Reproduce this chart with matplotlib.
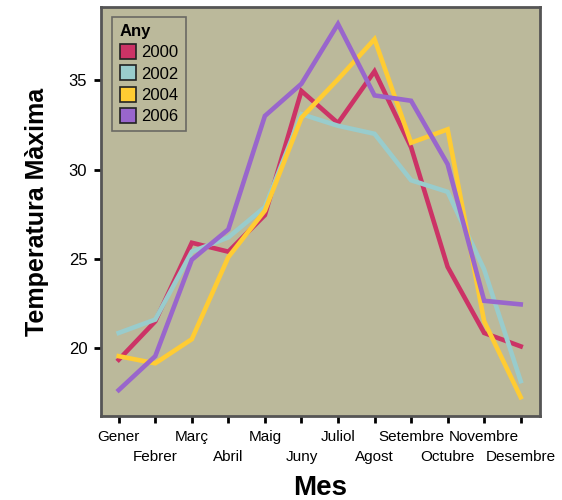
import matplotlib
matplotlib.use("Agg")
import matplotlib.pyplot as plt
from matplotlib.patches import Patch

months = ["Gener", "Febrer", "Març", "Abril", "Maig", "Juny", "Juliol",
          "Agost", "Setembre", "Octubre", "Novembre", "Desembre"]
years = ["2000", "2002", "2004", "2006"]
t2000 = [19.35, 21.5, 25.9, 25.4, 27.45, 34.4, 32.6, 35.5, 31.25, 24.55, 20.85, 20.1]
t2002 = [20.85, 21.6, 25.4, 26.2, 27.9, 33.1, 32.45, 32.0, 29.4, 28.75, 24.4, 18.15]
t2004 = [19.55, 19.15, 20.5, 25.1, 27.7, 32.9, 35.05, 37.3, 31.5, 32.25, 21.5, 17.25]
t2006 = [17.65, 19.55, 24.95, 26.65, 33.0, 34.8, 38.15, 34.15, 33.85, 30.3, 22.65, 22.45]
series = [t2000, t2002, t2004, t2006]
colors = ["#CC3366", "#99CCCC", "#FFCC33", "#9966CC"]
yticks = [20, 25, 30, 35]

plt.rcParams['font.family'] = ['Liberation Sans', 'DejaVu Sans']

fig = plt.figure(figsize=(5.62, 5.0), dpi=100)
ax = fig.add_axes([0.18, 0.168, 0.781, 0.818])
ax.set_facecolor("#BBB99B")

x = list(range(len(months)))
for vals, c in zip(series, colors):
    ax.plot(x, vals, color=c, lw=3.3, solid_joinstyle='miter', zorder=3)

ax.set_xlim(-0.48, 11.53)
ax.set_ylim(16.2, 39.1)
ax.set_yticks(yticks)
ax.set_yticklabels([str(v) for v in yticks], fontsize=12)

even = x[0::2]
odd = x[1::2]
ax.set_xticks(even)
ax.set_xticklabels(months[0::2], fontsize=11)
ax.set_xticks(odd, minor=True)
ax.set_xticklabels(months[1::2], minor=True, fontsize=11)
ax.tick_params(axis='both', which='both', direction='out', length=5, width=2,
               color='black')
ax.tick_params(axis='x', which='major', pad=5)
ax.tick_params(axis='x', which='minor', pad=19.5)
ax.tick_params(axis='y', pad=5)
for s in ax.spines.values():
    s.set_color("#555555")
    s.set_linewidth(2)

ax.set_xlabel("Mes", fontsize=20, fontweight='bold', labelpad=8)
ax.set_ylabel("Temperatura Màxima", fontsize=18, fontweight='bold', labelpad=14)

handles = [Patch(facecolor=c, edgecolor='#222222', lw=1.2) for c in colors]
leg = ax.legend(handles, years, title="Any", loc='upper left',
                bbox_to_anchor=(0.025, 0.976), borderaxespad=0,
                fontsize=12, frameon=True,
                fancybox=False, handlelength=1.0, handleheight=1.0,
                handletextpad=0.3, borderpad=0.45, labelspacing=0.3,
                title_fontproperties={'weight': 'bold', 'size': 12})
leg._legend_box.align = "left"
leg.get_frame().set_facecolor("#BBB99B")
leg.get_frame().set_edgecolor("#555555")
leg.get_frame().set_linewidth(1.2)

fig.savefig("out.png", dpi=100)
